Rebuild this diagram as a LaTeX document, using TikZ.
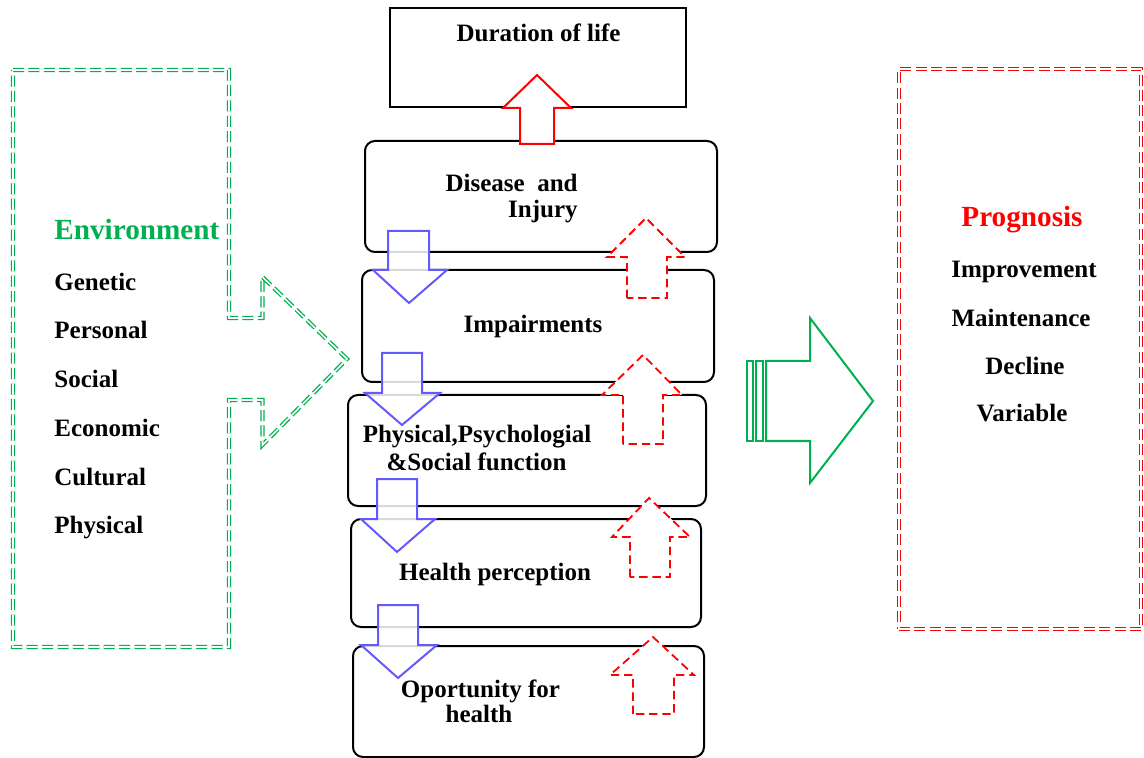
\documentclass[tikz,border=0pt]{standalone}
\usepackage{fontspec}
\setmainfont{Liberation Serif}
\definecolor{envgreen}{RGB}{0,176,80}
\definecolor{flowblue}{RGB}{100,88,255}
\definecolor{progred}{RGB}{255,0,0}
\begin{document}
\begin{tikzpicture}[x=0.5pt,y=-0.5pt,
  txt/.style={font=\bfseries\fontsize{12.5}{13.5}\selectfont, inner sep=0pt},
  head/.style={font=\bfseries\fontsize{14.6}{16}\selectfont, inner sep=0pt},
  plainbox/.style={draw=black, line width=1pt, inner sep=0pt},
  stage/.style={plainbox, rounded corners=5pt},
  dbldash/.style={line width=0.65pt, double=white, double distance=0.8pt, dash pattern=on 5.5pt off 2.2pt},
  upsolid/.style={draw=progred, line width=1pt, fill=white},
  updash/.style={draw=progred, line width=0.9pt, fill=white, dash pattern=on 4.2pt off 2.4pt},
  downblue/.style={draw=flowblue, line width=1pt, fill=white, fill opacity=0.85},
  bigarrow/.style={draw=envgreen, line width=1pt, fill=white}]
\useasboundingbox (0,0) rectangle (1144,758);

% central chain of stages
\node[plainbox, minimum width=148pt, minimum height=49.5pt] (life) at (538,57.5) {};
\node[stage, minimum width=176pt, minimum height=55.5pt] (dis) at (541,196.5) {};
\node[stage, minimum width=176pt, minimum height=56pt] (imp) at (538,326) {};
\node[stage, minimum width=179pt, minimum height=55.5pt] (fun) at (527,450.5) {};
\node[stage, minimum width=175pt, minimum height=54pt] (per) at (526,573) {};
\node[stage, minimum width=175.5pt, minimum height=55.5pt] (opp) at (528.5,701.5) {};

\node[txt, anchor=base] (life-t) at (538.5,42) {Duration of life};
\node[txt, anchor=base east] (dis-t1) at (578,192) {Disease\ \ and};
\node[txt, anchor=base east] (dis-t2) at (578,218) {Injury};
\node[txt, anchor=base] (imp-t) at (533,333) {Impairments};
\node[txt, anchor=base] (fun-t1) at (477,443) {Physical,Psychologial};
\node[txt, anchor=base] (fun-t2) at (476.5,470) {\&Social function};
\node[txt, anchor=base] (per-t) at (495,580) {Health perception};
\node[txt, anchor=base] (opp-t1) at (480.5,697) {Oportunity for};
\node[txt, anchor=base] (opp-t2) at (479,722) {health};

% upward feedback arrows
\draw[upsolid] (520,144)--(520,108)--(503,108)--(537,75)--(571,108)--(554,108)--(554,144)--cycle;
\draw[updash] (627,298)--(627,257)--(607,257)--(646,218)--(685,257)--(667,257)--(667,298)--cycle;
\draw[updash] (623,444)--(623,395)--(602,395)--(643,355)--(682,395)--(663,395)--(663,444)--cycle;
\draw[updash] (630,577)--(630,537)--(612,537)--(649,498)--(690,537)--(670,537)--(670,577)--cycle;
\draw[updash] (633,714)--(633,675)--(610,675)--(653,637)--(694,675)--(674,675)--(674,714)--cycle;

% downward progression arrows
\draw[downblue] (388,231)--(429,231)--(429,270)--(447,270)--(409,303)--(373,270)--(388,270)--cycle;
\draw[downblue] (382,353)--(422,353)--(422,393)--(440,393)--(402,425)--(365,393)--(382,393)--cycle;
\draw[downblue] (377,479)--(417,479)--(417,519)--(435,519)--(397,552)--(361,519)--(377,519)--cycle;
\draw[downblue] (378,605)--(418,605)--(418,645)--(437,645)--(398,678)--(361,645)--(378,645)--cycle;

% environment callout
\draw[dbldash, envgreen] (13,70)--(229,70)--(229,318)--(262.5,318)--(262.5,277)--(347,359)
  --(262.5,445)--(262.5,400)--(229,400)--(229,647)--(13,647)--cycle;
\node[head, text=envgreen, anchor=base west] (env) at (54,240) {Environment};
\node[txt, anchor=base west] (env1) at (54,291) {Genetic};
\node[txt, anchor=base west] (env2) at (54,339) {Personal};
\node[txt, anchor=base west] (env3) at (54,388) {Social};
\node[txt, anchor=base west] (env4) at (54,437) {Economic};
\node[txt, anchor=base west] (env5) at (54,485) {Cultural};
\node[txt, anchor=base west] (env6) at (54,533) {Physical};

% outcome arrow
\draw[bigarrow] (766,361)--(810,361)--(810,318)--(873,401)--(810,483)--(810,441)--(766,441)--cycle;
\draw[bigarrow] (747,361) rectangle (753,441);
\draw[bigarrow] (755.5,361) rectangle (763,441);

% prognosis box
\node[dbldash, draw=progred, minimum width=121pt, minimum height=280pt, inner sep=0pt] (prog) at (1020,349) {};
\node[head, text=progred, anchor=base] (prog-t) at (1022,227) {Prognosis};
\node[txt, anchor=base] (prog1) at (1024,278) {Improvement};
\node[txt, anchor=base] (prog2) at (1021,327) {Maintenance};
\node[txt, anchor=base] (prog3) at (1025,375) {Decline};
\node[txt, anchor=base] (prog4) at (1022,422) {Variable};
\end{tikzpicture}
\end{document}
